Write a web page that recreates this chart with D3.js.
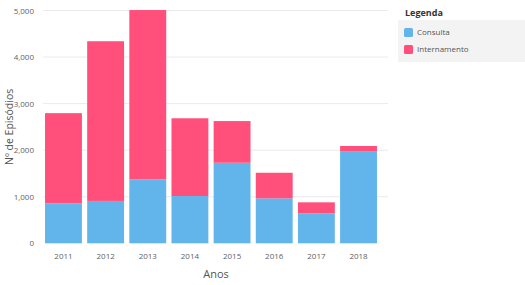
<!DOCTYPE html>
<html>
<head>
<meta charset="utf-8">
<script src="https://cdn.jsdelivr.net/npm/d3@7"></script>
<style>
  body { margin: 0; background: #fff; }
  svg { font-family: "Segoe UI", "Open Sans", sans-serif; }
</style>
</head>
<body>
<svg width="525" height="285"></svg>
<script>
const anos = ["2011", "2012", "2013", "2014", "2015", "2016", "2017", "2018"];
const consulta = [860, 910, 1375, 1015, 1730, 965, 645, 1980];
const internamento = [1935, 3430, 3635, 1670, 895, 550, 235, 110];
const series = ["Consulta", "Internamento"];
const yTicks = [0, 1000, 2000, 3000, 4000, 5000];

const colors = { "Consulta": "#62b5ea", "Internamento": "#ff4f7a" };

const svg = d3.select('svg');
const plotLeft = 43, plotRight = 388, plotTop = 10.5, plotBottom = 243.3;

const rows = anos.map((a, i) => ({ ano: a, Consulta: consulta[i], Internamento: internamento[i] }));
const stacked = d3.stack().keys(series)(rows);

const x = d3.scaleBand()
  .domain(anos)
  .range([plotLeft - 0.5, 379.5])
  .paddingInner(0.125)
  .paddingOuter(0.06);

const y = d3.scaleLinear()
  .domain([0, 5000])
  .range([plotBottom, plotTop]);

// gridlines
svg.append('g')
  .selectAll('line')
  .data(yTicks.slice(1))
  .enter()
  .append('line')
  .attr('x1', plotLeft)
  .attr('x2', plotRight)
  .attr('y1', d => y(d))
  .attr('y2', d => y(d))
  .attr('stroke', '#ebebeb')
  .attr('stroke-width', 1);

const yAxis = d3.axisLeft(y).tickValues(yTicks).tickSize(0).tickPadding(9)
  .tickFormat(d3.format(","));
svg.append('g')
  .attr('transform', 'translate(' + plotLeft + ',0)')
  .call(yAxis)
  .call(g => g.select('.domain').remove())
  .selectAll('text')
  .style('font-size', '8px')
  .style('fill', '#5f5f5f')
  .style('font-family', '"Segoe UI", "Open Sans", sans-serif');

const xAxis = d3.axisBottom(x).tickSize(0).tickPadding(10);
svg.append('g')
  .attr('transform', 'translate(0,' + plotBottom + ')')
  .call(xAxis)
  .call(g => g.select('.domain').remove())
  .selectAll('text')
  .style('font-size', '8px')
  .style('fill', '#5f5f5f')
  .style('font-family', '"Segoe UI", "Open Sans", sans-serif');

svg.append('g')
  .selectAll('g')
  .data(stacked)
  .enter()
  .append('g')
  .attr('fill', d => colors[d.key])
  .selectAll('rect')
  .data(d => d)
  .enter()
  .append('rect')
  .attr('x', d => x(d.data.ano))
  .attr('width', x.bandwidth())
  .attr('y', d => y(d[1]))
  .attr('height', d => y(d[0]) - y(d[1]));

svg.append('text')
  .attr('x', 216)
  .attr('y', 278)
  .attr('text-anchor', 'middle')
  .style('font-size', '11px')
  .style('fill', '#555')
  .text("Anos");

svg.append('text')
  .attr('transform', 'translate(12.5,' + ((plotTop + plotBottom) / 2) + ') rotate(-90)')
  .attr('text-anchor', 'middle')
  .style('font-size', '10.5px')
  .style('fill', '#555')
  .text("Nº de Episódios");

// legend
const legend = svg.append('g');
legend.append('rect')
  .attr('x', 398)
  .attr('y', 20)
  .attr('width', 127)
  .attr('height', 42)
  .attr('fill', '#f3f3f3');

legend.append('text')
  .attr('x', 405)
  .attr('y', 16)
  .style('font-size', '9px')
  .style('font-weight', 'bold')
  .style('fill', '#333')
  .text("Legenda");

legend.selectAll('.sw')
  .data(series)
  .enter()
  .append('rect')
  .attr('x', 404)
  .attr('y', (d, i) => 28 + i * 17)
  .attr('width', 9)
  .attr('height', 9)
  .attr('rx', 1.5)
  .attr('fill', d => colors[d]);

legend.selectAll('.lt')
  .data(series)
  .enter()
  .append('text')
  .attr('x', 417)
  .attr('y', (d, i) => 35 + i * 17)
  .style('font-size', '8px')
  .style('fill', '#555')
  .text(d => d);
</script>
</body>
</html>
